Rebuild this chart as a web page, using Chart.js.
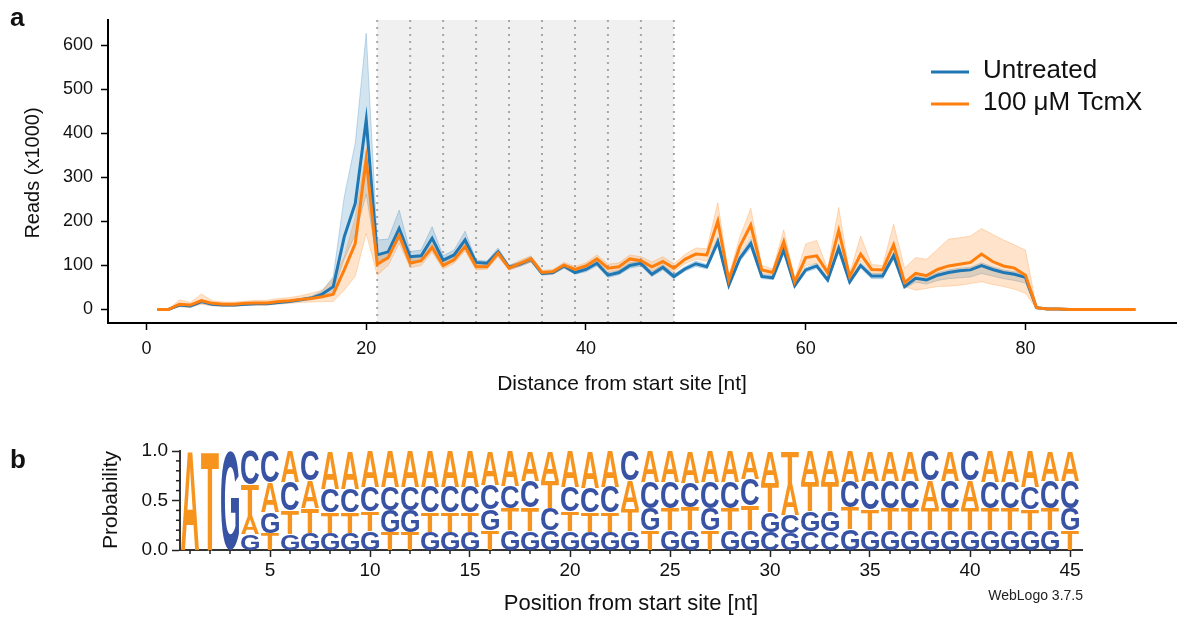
<!DOCTYPE html>
<html>
<head>
<meta charset="utf-8">
<script src="https://cdn.jsdelivr.net/npm/chart.js@4.4.1/dist/chart.umd.min.js"></script>
<style>
  body { margin: 0; background: #fff; width: 1183px; height: 619px; position: relative; overflow: hidden;
         font-family: "Liberation Sans", Arial, sans-serif; }
  #reads { position: absolute; left: 0; top: 0; }
  #logo { position: absolute; left: 0; top: 420px; }
  .panel { position: absolute; font-weight: bold; font-size: 26px; line-height: 26px; color: #111; }
  #wl { position: absolute; right: 100px; top: 588px; font-size: 14px; line-height: 14px; color: #222; }
</style>
</head>
<body>
<canvas id="reads" width="1183" height="400"></canvas>
<canvas id="logo" width="1183" height="199"></canvas>
<div class="panel" style="left:10px;top:4px">a</div>
<div class="panel" style="left:10px;top:446px">b</div>
<div id="wl">WebLogo 3.7.5</div>
<script>
// ---- panel a: read coverage ----
var positions = [1,2,3,4,5,6,7,8,9,10,11,12,13,14,15,16,17,18,19,20,21,22,23,24,25,26,27,28,29,30,
  31,32,33,34,35,36,37,38,39,40,41,42,43,44,45,46,47,48,49,50,51,52,53,54,55,56,57,58,59,60,
  61,62,63,64,65,66,67,68,69,70,71,72,73,74,75,76,77,78,79,80,81,82,83,84,85,86,87,88,89,90];

var untreated = [0,0,10,8,18,12,10,10,12,13, 13,16,18,22,26,35,52,165,241,431,
  124,131,184,120,122,162,112,124,158,107, 105,131,96,103,114,82,84,99,84,91,
  105,78,84,100,105,80,96,75,92,104, 97,154,55,116,150,75,72,135,54,90,
  99,67,139,63,100,76,76,122,52,71, 67,78,84,88,90,100,91,84,80,73,
  4,1,1,0,0,0,0,0,0,0];
var untreatedLo = [0,0,7,5,14,9,8,8,10,11, 11,14,16,19,22,30,42,115,170,262,
  110,118,160,110,112,146,104,115,144,100, 99,123,91,98,108,78,80,94,80,86,
  99,73,79,94,99,75,90,70,87,98, 92,145,50,110,140,70,68,128,50,85,
  93,62,130,58,94,70,70,115,48,62, 58,66,70,72,74,82,76,70,66,60,
  2,0,0,0,0,0,0,0,0,0];
var untreatedHi = [0,0,13,11,22,15,12,12,14,15, 15,18,20,25,30,42,75,256,378,628,
  158,160,226,132,135,188,122,135,178,112, 110,140,101,108,120,86,88,104,88,96,
  111,83,89,106,111,86,102,80,97,110, 102,163,60,122,160,80,77,142,58,95,
  105,72,148,68,106,82,82,130,56,76, 72,84,90,94,96,106,97,90,86,80,
  6,2,1,0,0,0,0,0,0,0];

var tcmx = [0,0,12,10,20,14,12,12,14,15, 15,18,20,23,25,29,35,90,150,341,
  103,118,169,105,111,141,100,113,143,97, 97,128,94,105,115,84,86,101,91,99,
  115,94,97,115,111,97,109,94,114,126, 124,201,67,143,192,90,84,154,63,118,
  122,84,179,75,126,91,90,147,61,82, 77,91,99,103,107,126,109,99,94,78,
  4,1,1,0,0,0,0,0,0,0];
var tcmxLo = [0,0,6,5,12,8,7,7,9,10, 10,12,14,16,17,18,18,44,75,173,
  78,100,150,95,100,130,92,105,133,90, 92,120,89,99,108,79,81,95,85,92,
  106,86,89,106,102,87,99,85,104,114, 110,165,60,125,165,82,78,135,57,100,
  105,76,150,68,110,82,82,130,52,44, 48,52,53,55,59,63,57,52,46,37,
  2,0,0,0,0,0,0,0,0,0];
var tcmxHi = [0,0,22,16,35,20,17,17,19,21, 21,25,27,31,37,44,70,120,210,360,
  118,130,185,115,120,150,108,120,152,103, 102,135,99,112,122,89,91,107,98,106,
  124,103,106,124,120,108,120,104,125,140, 138,243,76,165,230,100,92,181,70,149,
  157,92,232,82,167,102,100,194,94,118, 114,137,160,163,167,184,171,158,147,135,
  6,2,1,0,0,0,0,0,0,0];

var xTicks = [0, 20, 40, 60, 80];
var yTicks = [0, 100, 200, 300, 400, 500, 600];
var shadeFrom = 21, shadeTo = 48;
var frameLines = [21, 24, 27, 30, 33, 36, 39, 42, 45, 48];
var seriesNames = ["Untreated", "100 \u03bcM TcmX"];

// ---- panel b: sequence logo ----
var logoPos = [1,2,3,4,5,6,7,8,9,10,11,12,13,14,15,16,17,18,19,20,21,22,23,24,25,26,27,28,29,30,
  31,32,33,34,35,36,37,38,39,40,41,42,43,44,45];
var probA = [1,0,0,.18,.30,.31,.28,.38,.38,.36, .36,.36,.36,.36,.36,.34,.35,.30,.30,.36,
  .37,.36,.29,.31,.31,.32,.31,.31,.28,.32, .32,.31,.31,.31,.30,.30,.30,.28,.30,.28,
  .31,.31,.36,.30,.30];
var probC = [0,0,0,.34,.32,.29,.30,.24,.24,.25, .24,.24,.26,.26,.26,.25,.23,.27,.22,.25,
  .25,.26,.30,.27,.27,.25,.27,.27,.27,.18, .18,.19,.19,.26,.29,.28,.28,.30,.28,.30,
  .27,.27,.225,.28,.28];
var probG = [0,0,1,.16,.21,.16,.17,.17,.17,.19, .22,.22,.18,.18,.18,.21,.20,.19,.20,.19,
  .18,.18,.19,.22,.20,.20,.22,.20,.20,.20, .17,.20,.20,.21,.20,.20,.20,.20,.20,.20,
  .20,.20,.20,.20,.22];
var probT = [0,1,0,.32,.17,.24,.25,.21,.21,.20, .18,.18,.20,.20,.20,.20,.22,.24,.28,.20,
  .20,.20,.22,.20,.22,.23,.20,.22,.25,.30, .33,.30,.30,.22,.21,.22,.22,.22,.22,.22,
  .22,.22,.215,.22,.20];
var logoXTicks = [5, 10, 15, 20, 25, 30, 35, 40, 45];
var logoYTicks = [0, 0.5, 1];
var logoYMinor = [0.1, 0.2, 0.3, 0.4, 0.6, 0.7, 0.8, 0.9];

var FONT = '"Liberation Sans", Arial, sans-serif';
Chart.defaults.font.family = FONT;
Chart.defaults.color = '#111';

var BLUE = '#1f77b4', ORANGE = '#ff7f0e';
var LOGO_ORANGE = '#f7941e', LOGO_BLUE = '#3953a4';

function pts(arr) {
  return positions.map(function(p, i) { return {x: p, y: arr[i]}; });
}

var readsDecor = {
  id: 'readsDecor',
  beforeDatasetsDraw: function(chart) {
    var ctx = chart.ctx, a = chart.chartArea, x = chart.scales.x;
    ctx.save();
    var x0 = x.getPixelForValue(shadeFrom), x1 = x.getPixelForValue(shadeTo);
    ctx.fillStyle = '#f0f0f0';
    ctx.fillRect(x0, a.top, x1 - x0, a.bottom - a.top - 1);
    ctx.strokeStyle = '#a6a6a6';
    ctx.lineWidth = 2;
    ctx.setLineDash([2, 5]);
    frameLines.forEach(function(v) {
      var px = x.getPixelForValue(v);
      ctx.beginPath();
      ctx.moveTo(px, a.top);
      ctx.lineTo(px, a.bottom - 1);
      ctx.stroke();
    });
    ctx.restore();
  },
  afterDraw: function(chart) {
    var ctx = chart.ctx;
    ctx.save();
    // legend
    [BLUE, ORANGE].forEach(function(c, i) {
      var y = 72 + i * 32;
      ctx.strokeStyle = c;
      ctx.lineWidth = 3;
      ctx.beginPath();
      ctx.moveTo(931, y);
      ctx.lineTo(969, y);
      ctx.stroke();
      ctx.fillStyle = '#111';
      ctx.font = '26px ' + FONT;
      ctx.textBaseline = 'alphabetic';
      ctx.textAlign = 'left';
      ctx.fillText(seriesNames[i], 983, y + 5.5);
    });
    // axis titles
    ctx.font = '21px ' + FONT;
    ctx.textAlign = 'center';
    ctx.textBaseline = 'middle';
    ctx.fillText('Distance from start site [nt]', 622, 384);
    ctx.translate(33, 173);
    ctx.rotate(-Math.PI / 2);
    ctx.font = '20px ' + FONT;
    ctx.fillText('Reads (x1000)', 0, 0);
    ctx.restore();
  }
};

new Chart(document.getElementById('reads'), {
  type: 'line',
  data: {
    datasets: [
      { data: pts(tcmx), borderColor: ORANGE, borderWidth: 3, pointRadius: 0, fill: false, order: 0 },
      { data: pts(untreated), borderColor: BLUE, borderWidth: 3, pointRadius: 0, fill: false, order: 1 },
      { data: pts(untreatedLo), borderColor: 'rgba(31,119,180,0.25)', borderWidth: 1, pointRadius: 0, fill: false, order: 3 },
      { data: pts(untreatedHi), borderColor: 'rgba(31,119,180,0.25)', borderWidth: 1, pointRadius: 0,
        fill: 2, backgroundColor: 'rgba(31,119,180,0.2)', order: 3 },
      { data: pts(tcmxLo), borderColor: 'rgba(255,127,14,0.25)', borderWidth: 1, pointRadius: 0, fill: false, order: 2 },
      { data: pts(tcmxHi), borderColor: 'rgba(255,127,14,0.25)', borderWidth: 1, pointRadius: 0,
        fill: 4, backgroundColor: 'rgba(255,127,14,0.22)', order: 2 }
    ]
  },
  options: {
    responsive: false, animation: false, devicePixelRatio: 1,
    layout: { padding: { left: 0, right: 7, top: 20, bottom: 0 } },
    plugins: { legend: { display: false }, tooltip: { enabled: false } },
    scales: {
      x: {
        type: 'linear', min: -3.5, max: 93.7,
        afterBuildTicks: function(s) { s.ticks = xTicks.map(function(v) { return {value: v}; }); },
        afterFit: function(s) { s.height = 77; },
        grid: { drawOnChartArea: false, tickLength: 7, tickWidth: 1.5, tickColor: '#000' },
        border: { color: '#000', width: 2 },
        ticks: { font: { size: 18 }, color: '#111', padding: 8, maxRotation: 0 }
      },
      y: {
        min: -30.7, max: 658,
        afterBuildTicks: function(s) { s.ticks = yTicks.map(function(v) { return {value: v}; }); },
        afterFit: function(s) { s.width = 108; },
        grid: { drawOnChartArea: false, tickLength: 7, tickWidth: 1.5, tickColor: '#000' },
        border: { color: '#000', width: 2 },
        ticks: { font: { size: 18 }, color: '#111', padding: 8 }
      }
    }
  },
  plugins: [readsDecor]
});

// draw a glyph stretched into a box
function drawLetter(ctx, ch, color, x0, x1, yTop, yBot) {
  if (yBot - yTop < 0.5) return;
  ctx.save();
  ctx.font = 'bold 100px ' + FONT;
  var m = ctx.measureText(ch);
  var gw = m.actualBoundingBoxLeft + m.actualBoundingBoxRight;
  var gh = m.actualBoundingBoxAscent + m.actualBoundingBoxDescent;
  ctx.translate(x0, yTop);
  ctx.scale((x1 - x0) / gw, (yBot - yTop) / gh);
  ctx.fillStyle = color;
  ctx.textAlign = 'left';
  ctx.textBaseline = 'alphabetic';
  ctx.fillText(ch, m.actualBoundingBoxLeft, m.actualBoundingBoxAscent);
  ctx.restore();
}

var logoDraw = {
  id: 'logoDraw',
  afterDatasetsDraw: function(chart) {
    var ctx = chart.ctx, x = chart.scales.x, y = chart.scales.y;
    logoPos.forEach(function(p, i) {
      var stack = [
        {ch: 'A', v: probA[i], c: LOGO_ORANGE},
        {ch: 'C', v: probC[i], c: LOGO_BLUE},
        {ch: 'G', v: probG[i], c: LOGO_BLUE},
        {ch: 'T', v: probT[i], c: LOGO_ORANGE}
      ].sort(function(a, b) { return a.v - b.v; });
      var cum = 0;
      var xl = x.getPixelForValue(p - 0.45), xr = x.getPixelForValue(p + 0.45);
      stack.forEach(function(s) {
        var yb = y.getPixelForValue(cum), yt = y.getPixelForValue(cum + s.v);
        drawLetter(ctx, s.ch, s.c, xl, xr, yt, yb);
        cum += s.v;
      });
    });
  },
  afterDraw: function(chart) {
    var ctx = chart.ctx, x = chart.scales.x, y = chart.scales.y, a = chart.chartArea;
    ctx.save();
    ctx.strokeStyle = '#222';
    ctx.lineWidth = 1.5;
    logoPos.forEach(function(p) {
      if (logoXTicks.indexOf(p) >= 0) return;
      var px = x.getPixelForValue(p);
      ctx.beginPath(); ctx.moveTo(px, a.bottom); ctx.lineTo(px, a.bottom + 4); ctx.stroke();
    });
    logoYMinor.forEach(function(v) {
      var py = y.getPixelForValue(v);
      ctx.beginPath(); ctx.moveTo(a.left - 4, py); ctx.lineTo(a.left, py); ctx.stroke();
    });
    ctx.fillStyle = '#111';
    ctx.textAlign = 'center';
    ctx.textBaseline = 'middle';
    ctx.font = '22px ' + FONT;
    ctx.fillText('Position from start site [nt]', 631, 184);
    ctx.translate(111, 80);
    ctx.rotate(-Math.PI / 2);
    ctx.font = '21px ' + FONT;
    ctx.fillText('Probability', 0, 0);
    ctx.restore();
  }
};

new Chart(document.getElementById('logo'), {
  type: 'scatter',
  data: { datasets: [] },
  options: {
    responsive: false, animation: false, devicePixelRatio: 1,
    layout: { padding: { left: 0, right: 101, top: 31, bottom: 0 } },
    plugins: { legend: { display: false }, tooltip: { enabled: false } },
    scales: {
      x: {
        type: 'linear', min: 0.5, max: 45.6,
        afterBuildTicks: function(s) { s.ticks = logoXTicks.map(function(v) { return {value: v}; }); },
        afterFit: function(s) { s.height = 69; },
        grid: { drawOnChartArea: false, tickLength: 7, tickWidth: 1.5, tickColor: '#222' },
        border: { color: '#333', width: 2 },
        ticks: { font: { size: 19 }, color: '#111', padding: 2, maxRotation: 0 }
      },
      y: {
        min: 0, max: 1,
        afterBuildTicks: function(s) { s.ticks = logoYTicks.map(function(v) { return {value: v}; }); },
        afterFit: function(s) { s.width = 180; },
        grid: { drawOnChartArea: false, tickLength: 8, tickWidth: 1.5, tickColor: '#222' },
        border: { color: '#333', width: 2 },
        ticks: { font: { size: 19 }, color: '#111', padding: 4,
                 callback: function(v) { return Number(v).toFixed(1); } }
      }
    }
  },
  plugins: [logoDraw]
});
</script>
</body>
</html>
